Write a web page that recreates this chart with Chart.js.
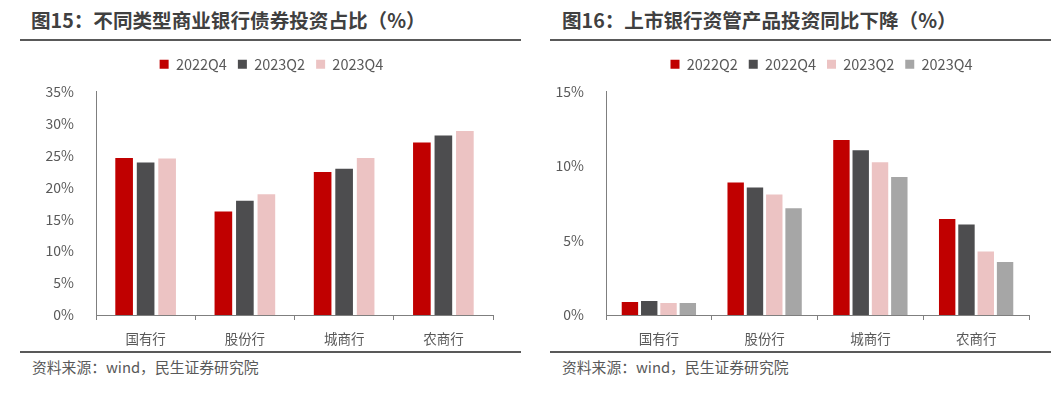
<!DOCTYPE html>
<html>
<head>
<meta charset="utf-8">
<script src="https://cdn.jsdelivr.net/npm/chart.js@4.4.1/dist/chart.umd.min.js"></script>
<style>
  html, body { margin: 0; padding: 0; background: #fff; }
  body { width: 1051px; height: 401px; position: relative; overflow: hidden;
         font-family: "Noto Sans CJK SC", "Noto Sans", sans-serif; }
  .title { position: absolute; top: 5px; font-size: 19.6px; font-weight: bold; color: #404040; white-space: nowrap; }
  .rule { position: absolute; height: 2px; background: #595959; }
  .src { position: absolute; top: 356px; font-size: 14.8px; color: #595959; white-space: nowrap; }
  .box { position: absolute; top: 48px; height: 302px; }
</style>
</head>
<body>
<div class="title" style="left:31px">图15：不同类型商业银行债券投资占比（%）</div>
<div class="title" style="left:562px">图16：上市银行资管产品投资同比下降（%）</div>
<div class="rule" style="left:20px; width:501px; top:39px"></div>
<div class="rule" style="left:550px; width:501px; top:39px"></div>
<div class="rule" style="left:20px; width:501px; top:351px"></div>
<div class="rule" style="left:550px; width:501px; top:351px"></div>
<div class="src" style="left:32px">资料来源：wind，民生证券研究院</div>
<div class="src" style="left:562px">资料来源：wind，民生证券研究院</div>

<div class="box" style="left:20px; width:475px"><canvas id="c1"></canvas></div>
<div class="box" style="left:548px; width:483px"><canvas id="c2"></canvas></div>

<script>
// 图15 data
const banks = ['国有行', '股份行', '城商行', '农商行'];
const bond2022Q4 = [24.6, 16.2, 22.4, 27.0];
const bond2023Q2 = [23.9, 17.9, 22.9, 28.1];
const bond2023Q4 = [24.5, 18.9, 24.6, 28.8];
const bondTicks = [0, 5, 10, 15, 20, 25, 30, 35];

// 图16 data
const am2022Q2 = [0.87, 8.9, 11.75, 6.45];
const am2022Q4 = [0.94, 8.55, 11.05, 6.07];
const am2023Q2 = [0.8, 8.08, 10.25, 4.27];
const am2023Q4 = [0.8, 7.17, 9.27, 3.55];
const amTicks = [0, 5, 10, 15];

const RED = '#C00000', DARK = '#4D4D4F', PINK = '#ECC3C3', GRAY = '#A6A6A6';
const TXT = '#595959', AXIS = '#7F7F7F';
const FONT = '"Noto Sans CJK SC", "Noto Sans", sans-serif';

// nudge the legend box after layout so it sits where the original does
const legendShift = {
    id: 'legendShift',
    afterLayout(chart, args, o) {
        const lg = chart.legend;
        if (!lg) return;
        lg.left += o.dx; lg.right += o.dx;
        lg.top += o.dy; lg.bottom += o.dy;
    }
};

function makeChart(id, datasets, ticks, opts) {
    const ctx = document.getElementById(id);
    return new Chart(ctx, {
        type: 'bar',
        data: { labels: banks, datasets: datasets },
        plugins: [legendShift],
        options: {
            responsive: true,
            maintainAspectRatio: false,
            animation: false,
            categoryPercentage: opts.catPct,
            barPercentage: opts.barPct,
            layout: { padding: { left: 0, right: 2, top: 8, bottom: 0 } },
            plugins: {
                legend: {
                    position: 'top',
                    fullSize: opts.fullSize,
                    labels: { boxWidth: 9, boxHeight: 9, padding: 11, color: TXT, font: { family: FONT, size: 14.5 } }
                },
                legendShift: { dx: opts.dx, dy: -10 },
                tooltip: { enabled: false }
            },
            scales: {
                x: {
                    grid: { drawOnChartArea: false, drawTicks: true, tickLength: 5, color: AXIS },
                    border: { display: true, color: AXIS, width: 1 },
                    ticks: { color: TXT, padding: 11, font: { family: FONT, size: 13.5 } },
                    afterFit: s => { s.height = 35; }
                },
                y: {
                    min: 0,
                    max: ticks[ticks.length - 1],
                    afterBuildTicks: s => { s.ticks = ticks.map(v => ({ value: v })); },
                    grid: { display: false },
                    border: { display: true, color: AXIS, width: 1 },
                    ticks: { color: TXT, padding: 14, font: { family: FONT, size: 14 }, callback: v => v + '%' },
                    afterFit: s => { s.width = opts.yWidth; }
                }
            }
        }
    });
}

makeChart('c1', [
    { label: '2022Q4', data: bond2022Q4, backgroundColor: RED },
    { label: '2023Q2', data: bond2023Q2, backgroundColor: DARK },
    { label: '2023Q4', data: bond2023Q4, backgroundColor: PINK }
], bondTicks, { catPct: 0.65, barPct: 0.82, fullSize: true, yWidth: 76, dx: 15 });

makeChart('c2', [
    { label: '2022Q2', data: am2022Q2, backgroundColor: RED },
    { label: '2022Q4', data: am2022Q4, backgroundColor: DARK },
    { label: '2023Q2', data: am2023Q2, backgroundColor: PINK },
    { label: '2023Q4', data: am2023Q4, backgroundColor: GRAY }
], amTicks, { catPct: 0.73, barPct: 0.85, fullSize: false, yWidth: 58, dx: 4 });
</script>
</body>
</html>
